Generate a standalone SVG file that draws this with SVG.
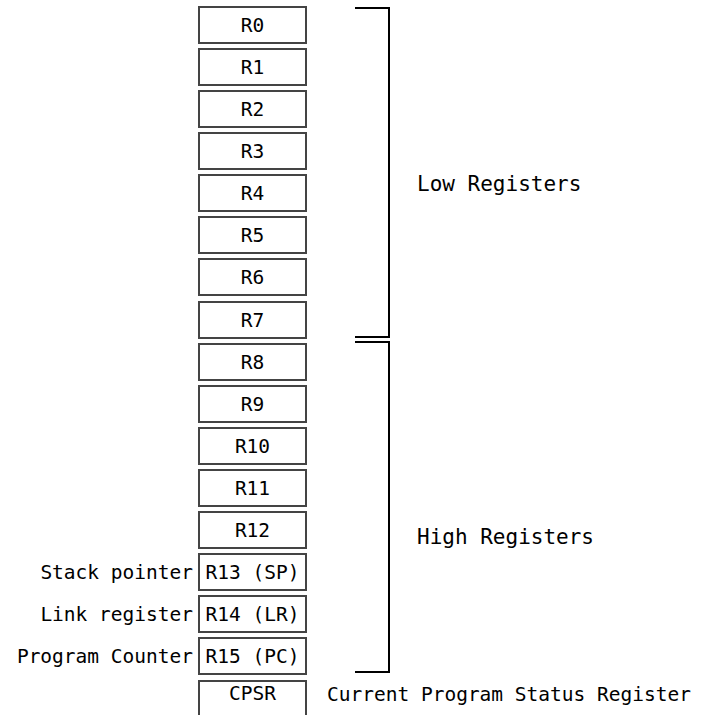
<svg xmlns="http://www.w3.org/2000/svg" width="714" height="715" viewBox="0 0 714 715">
<style>
.box{fill:#fff;stroke:#444;stroke-width:2}
.t{font-family:"DejaVu Sans Mono","Liberation Mono",monospace;font-size:19.5px;fill:#000}
.big{font-size:21px}
.c{text-anchor:middle}
.r{text-anchor:end}
.br{fill:none;stroke:#000;stroke-width:2}
</style>
<rect width="714" height="715" fill="#fff"/>
<g id="R0"><rect class="box" x="199" y="7" width="107" height="36"/><text class="t c" x="252.5" y="32">R0</text></g>
<g id="R1"><rect class="box" x="199" y="49" width="107" height="36"/><text class="t c" x="252.5" y="74">R1</text></g>
<g id="R2"><rect class="box" x="199" y="91" width="107" height="36"/><text class="t c" x="252.5" y="116">R2</text></g>
<g id="R3"><rect class="box" x="199" y="133" width="107" height="36"/><text class="t c" x="252.5" y="158">R3</text></g>
<g id="R4"><rect class="box" x="199" y="175" width="107" height="36"/><text class="t c" x="252.5" y="200">R4</text></g>
<g id="R5"><rect class="box" x="199" y="217" width="107" height="36"/><text class="t c" x="252.5" y="242">R5</text></g>
<g id="R6"><rect class="box" x="199" y="259" width="107" height="36"/><text class="t c" x="252.5" y="284">R6</text></g>
<g id="R7"><rect class="box" x="199" y="302" width="107" height="36"/><text class="t c" x="252.5" y="327">R7</text></g>
<g id="R8"><rect class="box" x="199" y="344" width="107" height="36"/><text class="t c" x="252.5" y="369">R8</text></g>
<g id="R9"><rect class="box" x="199" y="386" width="107" height="36"/><text class="t c" x="252.5" y="411">R9</text></g>
<g id="R10"><rect class="box" x="199" y="428" width="107" height="36"/><text class="t c" x="252.5" y="453">R10</text></g>
<g id="R11"><rect class="box" x="199" y="470" width="107" height="36"/><text class="t c" x="252.5" y="495">R11</text></g>
<g id="R12"><rect class="box" x="199" y="512" width="107" height="36"/><text class="t c" x="252.5" y="537">R12</text></g>
<g id="R13"><rect class="box" x="199" y="554" width="107" height="36"/><text class="t c" x="252.5" y="579">R13 (SP)</text><text class="t r" x="193" y="579">Stack pointer</text></g>
<g id="R14"><rect class="box" x="199" y="596" width="107" height="36"/><text class="t c" x="252.5" y="621">R14 (LR)</text><text class="t r" x="193" y="621">Link register</text></g>
<g id="R15"><rect class="box" x="199" y="638" width="107" height="36"/><text class="t c" x="252.5" y="663">R15 (PC)</text><text class="t r" x="193" y="663">Program Counter</text></g>
<g id="CPSR"><rect class="box" x="199" y="681" width="107" height="40"/><text class="t c" x="252.5" y="700">CPSR</text><text class="t" x="327" y="701">Current Program Status Register</text></g>
<g id="low"><text class="t big" x="417" y="191">Low Registers</text></g>
<g id="high"><text class="t big" x="417" y="544">High Registers</text></g>
<g id="connectors">
<path class="br" d="M355,8 H389 V337 H355"/>
<path class="br" d="M355,342 H389 V672 H355"/>
</g>
</svg>
